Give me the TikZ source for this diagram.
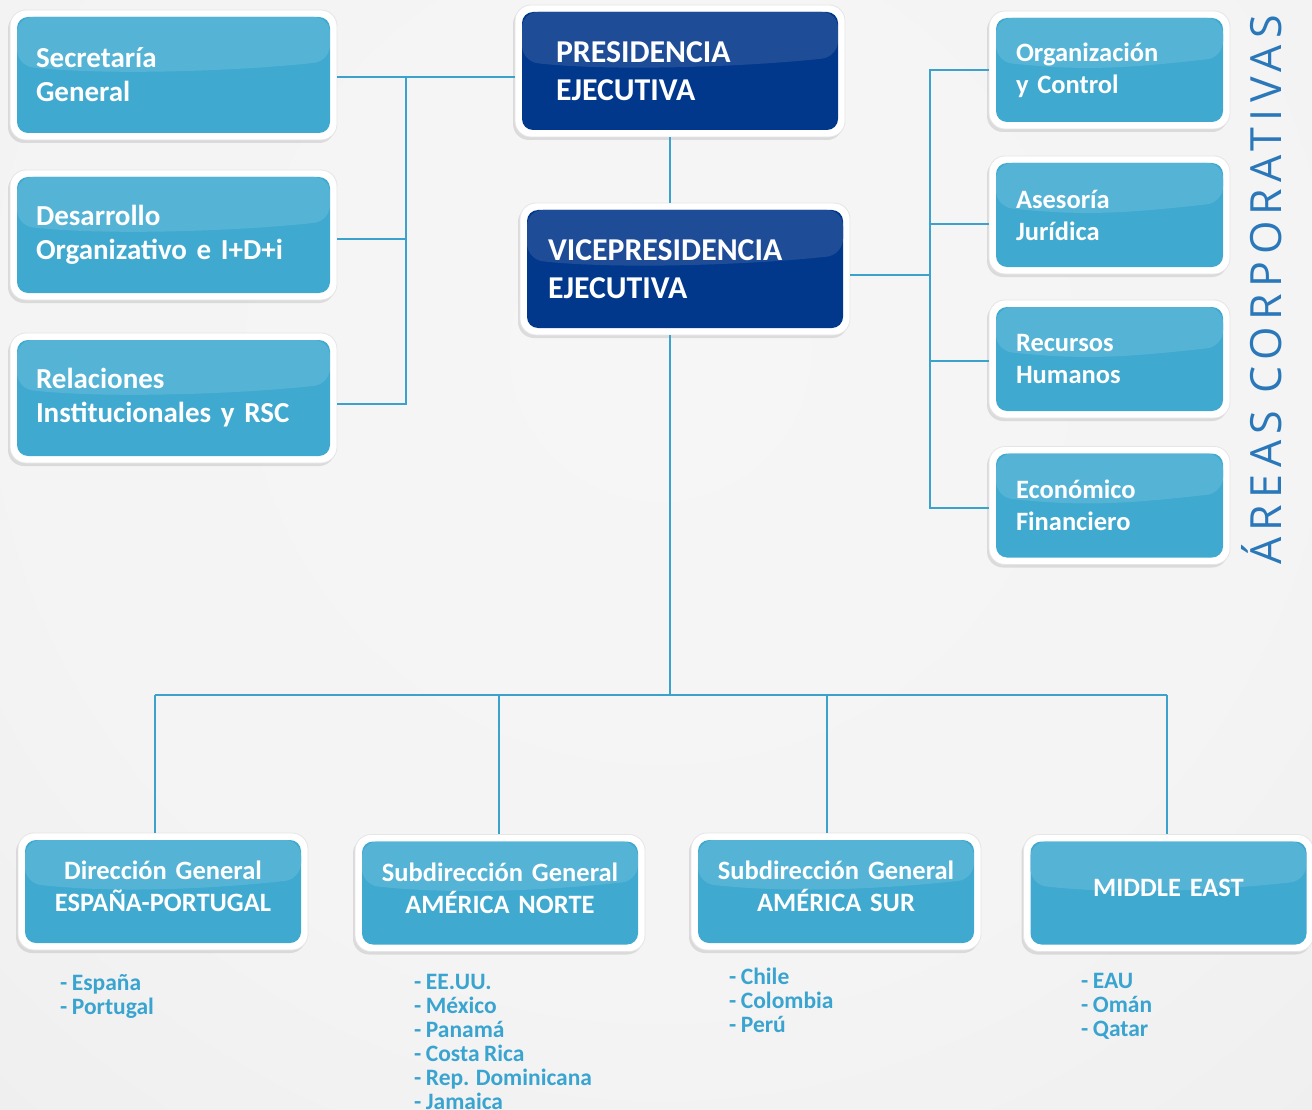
\documentclass[tikz,border=0pt]{standalone}
\usepackage{fontspec}
\setmainfont{Carlito}[WordSpace=0.85]
\newfontfamily\areafont[LetterSpace=15]{Open Sans}
\usetikzlibrary{calc,shadows}
\definecolor{lbA}{HTML}{40A9CF}
\definecolor{lbB}{HTML}{55B4D6}
\definecolor{dbA}{HTML}{01388B}
\definecolor{dbB}{HTML}{1E4C97}
\definecolor{connC}{HTML}{3BA2CE}
\definecolor{listC}{HTML}{3AA4D0}
\definecolor{areaC}{HTML}{2A78BA}
\pgfdeclareradialshading{bgshade}{\pgfpoint{0bp}{0bp}}{rgb(0bp)=(0.965,0.965,0.965); rgb(12bp)=(0.955,0.955,0.955); rgb(26bp)=(0.915,0.915,0.915); rgb(36bp)=(0.86,0.86,0.86); rgb(50bp)=(0.82,0.82,0.82)}
\newcommand\innerbox[2]{%
  \coordinate (ibSW) at ([shift={(7pt,7pt)}]path picture bounding box.south west);
  \coordinate (ibNE) at ([shift={(-7pt,-7pt)}]path picture bounding box.north east);
  \coordinate (ibNW) at (ibSW |- ibNE);
  \fill[#1,rounded corners=11pt] (ibSW) rectangle (ibNE);
  \begin{scope}
    \clip[rounded corners=11pt] (ibSW) rectangle (ibNE);
    \fill[#2] (ibNW) -- (ibNE) -- ($(ibNE)!0.38!(ibNE|-ibSW)$)
      .. controls +(-90pt,-10pt) and +(90pt,-10pt) .. ($(ibNW)!0.42!(ibSW)$) -- cycle;
  \end{scope}
}
\tikzset{
  boxbase/.style={rectangle, rounded corners=16pt, fill=white, draw=black!10, line width=0.8pt,
    drop shadow={shadow xshift=-2pt, shadow yshift=-3pt, opacity=0.22},
    text=white, align=left},
  lightbox/.style={boxbase, path picture={\innerbox{lbA}{lbB}}},
  darkbox/.style={boxbase, path picture={\innerbox{dbA}{dbB}}},
  lefttext/.style={font=\bfseries\fontsize{29}{34}\selectfont, text width=275pt, inner xsep=26pt, minimum height=130pt},
  righttext/.style={font=\bfseries\fontsize{26.5}{32}\selectfont, text width=187pt, inner xsep=27pt, minimum height=118pt},
  bottomtext/.style={font=\bfseries\fontsize{26.5}{32}\selectfont, text width=270pt, inner xsep=10pt, minimum height=117pt, align=center, text depth=42pt},
  conn/.style={draw=connC, line width=2.6pt},
  thinconn/.style={draw=connC, line width=1.8pt},
  listtext/.style={font=\bfseries\fontsize{23.5}{24}\selectfont, text=listC, align=left, inner sep=0pt, anchor=north west},
}
\begin{document}
\begin{tikzpicture}[x=1pt,y=-1pt]
\useasboundingbox (0,0) rectangle (1312,1110);
\begin{scope}
  \clip (0,0) rectangle (1312,1110);
  \shade[shading=bgshade] (660,350) circle (1400);
\end{scope}

% top boxes
\node[lightbox, lefttext] (sec) at (173.5,75) {Secretaría\\General};
\node[lightbox, lefttext] (des) at (173.5,235) {Desarrollo\\Organizativo e I+D+i};
\node[lightbox, lefttext] (rel) at (173.5,398) {Relaciones\\Institucionales y RSC};

\node[darkbox, font=\bfseries\fontsize{31.8}{38}\selectfont, text width=248pt, inner xsep=41pt, minimum height=132pt] (pres) at (680,71) {PRESIDENCIA\\EJECUTIVA};
\node[darkbox, font=\bfseries\fontsize{31.8}{38}\selectfont, text width=274pt, inner xsep=28pt, minimum height=132pt] (vice) at (685,269) {VICEPRESIDENCIA\\EJECUTIVA};

\node[lightbox, righttext] (org) at (1109.5,70) {Organización\\y Control};
\node[lightbox, righttext] (ase) at (1109.5,215) {Asesoría\\Jurídica};
\node[lightbox, righttext] (rec) at (1109.5,359) {Recursos\\Humanos};
\node[lightbox, righttext] (eco) at (1109.5,505.5) {Económico\\Financiero};

% bottom boxes
\node[lightbox, bottomtext] (b1) at (163,891.5) {Dirección General\\ESPAÑA-PORTUGAL};
\node[lightbox, bottomtext] (b2) at (500,893) {Subdirección General\\AMÉRICA NORTE};
\node[lightbox, bottomtext] (b3) at (836,891.5) {Subdirección General\\AMÉRICA SUR};
\node[lightbox, bottomtext, text depth=11pt] (b4) at (1168.5,893) {MIDDLE EAST};

% connectors
\coordinate (lbT) at (406,77);
\coordinate (lbM) at (406,239);
\coordinate (lbB) at (406,404);
\draw[conn] (pres.west |- lbT) -- (sec.east |- lbT);
\draw[conn] (lbT) -- (lbB) -- (rel.east |- lbB);
\draw[conn] (lbM) -- (des.east |- lbM);

\coordinate (tx) at (670,0);
\draw[conn] (pres.south -| tx) -- (vice.north -| tx);

\coordinate (rbV) at (930,275);
\coordinate (rbT) at (930,70);
\coordinate (rbA) at (930,224);
\coordinate (rbR) at (930,361);
\coordinate (rbB) at (930,508);
\draw[conn] (vice.east |- rbV) -- (rbV);
\draw[conn] (org.west |- rbT) -- (rbT) -- (rbB) -- (eco.west |- rbB);
\draw[conn] (rbA) -- (ase.west |- rbA);
\draw[conn] (rbR) -- (rec.west |- rbR);

\coordinate (hb) at (670,695);
\coordinate (hbL) at (155,695);
\coordinate (hb2) at (499,695);
\coordinate (hb3) at (827,695);
\coordinate (hbR) at (1167,695);
\draw[conn] (vice.south -| hb) -- (hb);
\draw[conn] (hbL) -- (hbR);
\draw[thinconn] (hbL) -- (b1.north -| hbL);
\draw[thinconn] (hb2) -- (b2.north -| hb2);
\draw[thinconn] (hb3) -- (b3.north -| hb3);
\draw[thinconn] (hbR) -- (b4.north -| hbR);

% lists
\node[listtext] (l1) at (60,973.5) {\strut- España\\- Portugal};
\node[listtext] (l2) at (414,972.8) {\strut- EE.UU.\\- México\\- Panamá\\- Costa Rica\\- Rep. Dominicana\\- Jamaica};
\node[listtext] (l3) at (729,967.8) {\strut- Chile\\- Colombia\\- Perú};
\node[listtext] (l4) at (1081,971.8) {\strut- EAU\\- Omán\\- Qatar};

% vertical title
\node[font=\areafont\fontsize{43}{48}\selectfont, text=areaC, rotate=90, anchor=base, inner sep=0pt] (areas) at (1281,290) {ÁREAS CORPORATIVAS};
\end{tikzpicture}
\end{document}
